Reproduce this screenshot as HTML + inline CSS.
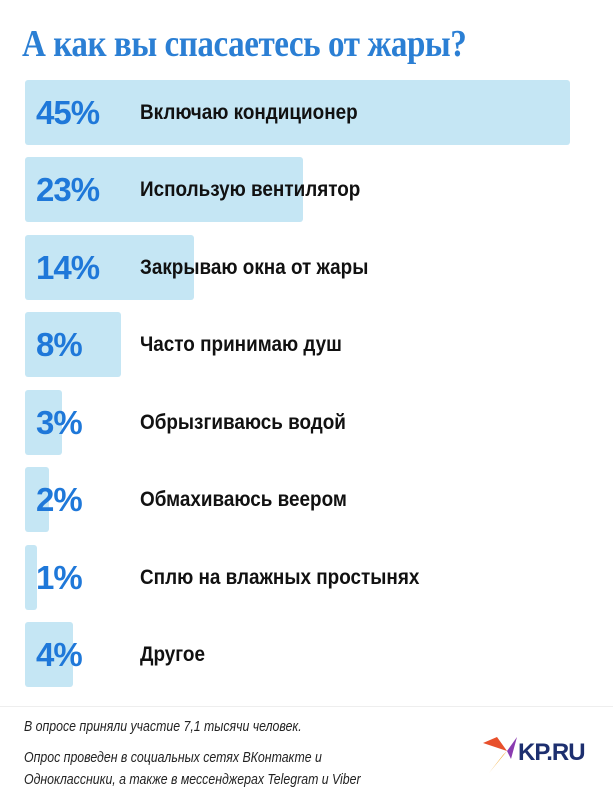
<!DOCTYPE html>
<html><head><meta charset="utf-8"><style>
body{margin:0;width:613px;height:800px;background:#fff;position:relative;overflow:hidden;font-family:"Liberation Sans",sans-serif}
.t{position:absolute;left:22px;top:22px;font-family:"Liberation Serif",serif;font-weight:bold;font-size:38px;color:#2b7fd4;letter-spacing:-0.5px;white-space:nowrap;transform:scaleX(.87);transform-origin:left}
.b{position:absolute;left:25px;height:65px;background:#c5e6f4;border-radius:3px}
.p{position:absolute;left:36px;font-weight:bold;font-size:33px;color:#1f78d9;line-height:65px;letter-spacing:-1px}
.l{position:absolute;left:140px;font-weight:bold;font-size:21px;color:#111;line-height:65px;transform:scaleX(.9);transform-origin:left;white-space:nowrap}
.hr{position:absolute;left:0;right:0;top:706px;height:1px;background:#eee}
.f{position:absolute;left:24px;font-style:italic;font-size:14.5px;color:#222;white-space:nowrap;transform:scaleX(.85);transform-origin:left}
</style></head><body>
<div class="t">А как вы спасаетесь от жары?</div>
<div class="b" style="top:80px;width:545px"></div><div class="p" style="top:80px">45%</div><div class="l" style="top:80px">Включаю кондиционер</div>
<div class="b" style="top:157px;width:278px"></div><div class="p" style="top:157px">23%</div><div class="l" style="top:157px">Использую вентилятор</div>
<div class="b" style="top:235px;width:169px"></div><div class="p" style="top:235px">14%</div><div class="l" style="top:235px">Закрываю окна от жары</div>
<div class="b" style="top:312px;width:96px"></div><div class="p" style="top:312px">8%</div><div class="l" style="top:312px">Часто принимаю душ</div>
<div class="b" style="top:390px;width:37px"></div><div class="p" style="top:390px">3%</div><div class="l" style="top:390px">Обрызгиваюсь водой</div>
<div class="b" style="top:467px;width:24px"></div><div class="p" style="top:467px">2%</div><div class="l" style="top:467px">Обмахиваюсь веером</div>
<div class="b" style="top:545px;width:12px"></div><div class="p" style="top:545px">1%</div><div class="l" style="top:545px">Сплю на влажных простынях</div>
<div class="b" style="top:622px;width:48px"></div><div class="p" style="top:622px">4%</div><div class="l" style="top:622px">Другое</div>
<div class="hr"></div>
<div class="f" style="top:719px">В опросе приняли участие 7,1 тысячи человек.</div>
<div class="f" style="top:750px">Опрос проведен в социальных сетях ВКонтакте и</div>
<div class="f" style="top:772px">Одноклассники, а также в мессенджерах Telegram и Viber</div>
<svg style="position:absolute;left:483px;top:735px" width="36" height="40"><path d="M0 8 L24 16 L14 2 Z" fill="#e8502c"/><path d="M24 16 L34 2 L28 24 Z" fill="#8a3bb0"/><path d="M24 16 L6 38 L20 20 Z" fill="#f0a020"/></svg>
<div style="position:absolute;left:518px;top:739px;font-weight:900;font-size:24px;color:#1d2f6f;letter-spacing:-1px">KP.RU</div>
</body></html>
